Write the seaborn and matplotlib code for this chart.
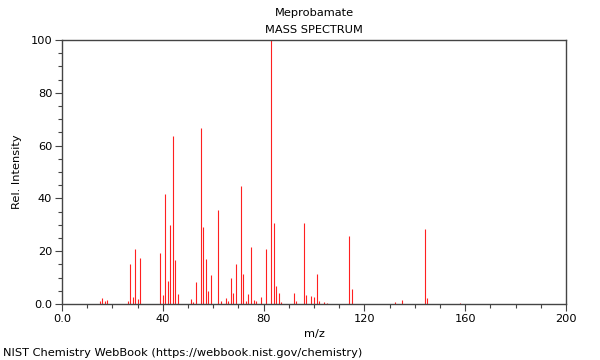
import matplotlib
matplotlib.use("Agg")
import matplotlib.pyplot as plt
import seaborn as sns
from matplotlib.ticker import MultipleLocator, FuncFormatter

compound = "Meprobamate"

mz = [15, 16, 17, 18, 26, 27, 28, 29, 30, 31,
      39, 40, 41, 42, 43, 44, 45, 46, 51, 52, 53,
      55, 56, 57, 58, 59, 62, 63, 65, 66, 67, 68, 69,
      71, 72, 73, 74, 75, 76, 77, 79, 81, 83, 84, 85, 86, 87,
      92, 93, 96, 97, 99, 100, 101, 102, 104, 105,
      114, 115, 132, 135, 144, 145, 158]
intensity = [1.1, 2.3, 1.1, 1.5, 1.2, 15.2, 2.8, 21.0, 1.8, 17.3,
             19.2, 3.4, 41.7, 8.7, 30.0, 63.6, 16.7, 3.7, 1.8, 0.8, 8.5,
             66.5, 29.0, 17.0, 4.9, 11.1, 35.6, 1.1, 2.1, 1.1, 9.7, 4.0, 15.0,
             44.7, 11.2, 1.0, 3.7, 21.7, 1.5, 1.0, 2.6, 20.8, 100.0, 30.8, 7.0, 4.0, 0.7,
             4.0, 1.0, 30.8, 3.4, 3.1, 2.8, 11.2, 1.1, 0.8, 0.5,
             25.8, 5.6, 0.7, 1.5, 28.3, 2.1, 0.3]

x_ticks = [0, 40, 80, 120, 160, 200]
y_ticks = [0, 20, 40, 60, 80, 100]

sns.set_style("ticks", {"text.color": "black", "axes.labelcolor": "black",
                        "xtick.color": "#444444", "ytick.color": "#444444"})
plt.rcParams["font.family"] = ["DejaVu Sans"]

fig = plt.figure(figsize=(6, 3.6), dpi=100)
ax = fig.add_axes([62 / 600, 1 - 304 / 360, 504 / 600, 264 / 360])

ax.vlines(mz, 0, intensity, color="#ff2020", linewidth=0.8)

ax.set_xlim(0, 200)
ax.set_ylim(0, 100)
ax.set_xticks(x_ticks)
ax.set_yticks(y_ticks)
ax.xaxis.set_minor_locator(MultipleLocator(10))
ax.yaxis.set_minor_locator(MultipleLocator(5))
fmt = FuncFormatter(lambda v, p: "0.0" if v == 0 else f"{v:.0f}")
ax.xaxis.set_major_formatter(fmt)
ax.yaxis.set_major_formatter(fmt)
ax.tick_params(which="major", length=5, width=0.8, labelsize=8.2, labelcolor="black", pad=2)
ax.tick_params(which="minor", length=3, width=0.8)
for s in ax.spines.values():
    s.set_color("#444444")
    s.set_linewidth(1.0)

ax.set_xlabel("m/z", fontsize=8.2, labelpad=4)
ax.set_ylabel("Rel. Intensity", fontsize=8.2, labelpad=6)

fig.text(314 / 600, 1 - 13 / 360, compound, ha="center", va="center", fontsize=8.2)
fig.text(314 / 600, 1 - 30 / 360, "MASS SPECTRUM", ha="center", va="center", fontsize=8.2)
fig.text(3 / 600, 1 - 353 / 360, "NIST Chemistry WebBook (https://webbook.nist.gov/chemistry)",
         ha="left", va="center", fontsize=8.2)

fig.savefig("out.png", dpi=100)
